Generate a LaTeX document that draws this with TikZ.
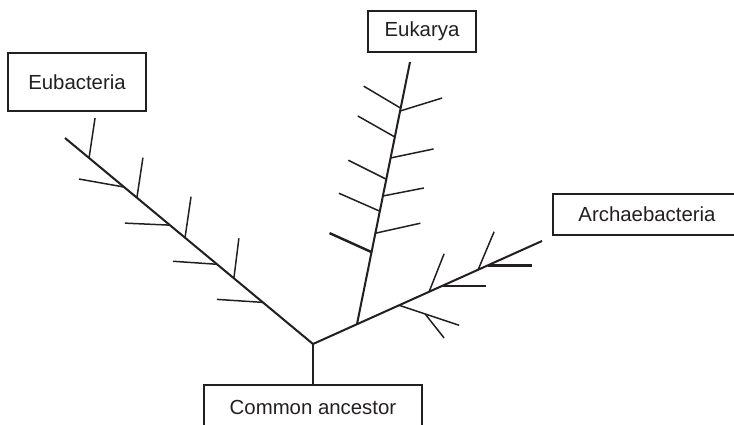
\documentclass[tikz,border=0pt]{standalone}
\usepackage{fontspec}
\setmainfont{Liberation Sans}
\usetikzlibrary{calc}
\definecolor{treeink}{HTML}{231F20}

\begin{document}
\begin{tikzpicture}[
    x=0.02cm, y=-0.02cm,
    stem/.style={line width=1.15pt, treeink},
    twig/.style={line width=0.85pt, treeink},
    fattwig/.style={line width=1.4pt, treeink},
    taxonbox/.style={draw=treeink, line width=0.85pt, inner sep=0pt,
        font=\fontsize{11.6}{14}\selectfont, text=treeink}
]

\useasboundingbox (0,0) rectangle (734,425);
\clip (0,0) rectangle (734,425);

% Boxes
\node[taxonbox, minimum width=2.76cm, minimum height=1.16cm] (eub) at (77,82) {Eubacteria};
\node[taxonbox, minimum width=2.16cm, minimum height=0.82cm] (euk) at (422,31.5) {Eukarya};
\node[taxonbox, minimum width=3.76cm, minimum height=0.82cm] (arc) at (647,214.5) {Archaebacteria};
\node[taxonbox, minimum width=4.36cm, minimum height=0.88cm] (anc) at (313,407) {Common ancestor};

% Main branches
\coordinate (root) at (313,344);
\coordinate (eubTip) at (65,138);
\coordinate (arcTip) at (542,241);
\coordinate (eukTip) at (410,62);
\coordinate (eukBase) at ($(root)!0.192!(arcTip)$);

\draw[stem] (anc.north) -- (root);
\draw[stem] (eubTip) -- (root) -- (arcTip);
\draw[stem] (eukBase) -- (eukTip);

% Eubacteria twigs
\draw[twig] ($(root)!0.903!(eubTip)$) -- ++(6,-40);
\draw[twig] ($(root)!0.710!(eubTip)$) -- ++(6,-40);
\draw[twig] ($(root)!0.516!(eubTip)$) -- ++(6,-41);
\draw[twig] ($(root)!0.319!(eubTip)$) -- ++(5,-40);
\draw[twig] ($(root)!0.762!(eubTip)$) -- ++(-45,-8);
\draw[twig] ($(root)!0.577!(eubTip)$) -- ++(-45,-2);
\draw[twig] ($(root)!0.387!(eubTip)$) -- ++(-44,-3);
\draw[twig] ($(root)!0.202!(eubTip)$) -- ++(-46,-3);

% Eukarya twigs
\draw[twig] ($(eukBase)!0.824!(eukTip)$) -- ++(-37,-22);
\draw[twig] ($(eukBase)!0.714!(eukTip)$) -- ++(-37,-21);
\draw[twig] ($(eukBase)!0.553!(eukTip)$) -- ++(-38,-19);
\draw[twig] ($(eukBase)!0.431!(eukTip)$) -- ++(-41,-18);
\draw[fattwig] ($(eukBase)!0.275!(eukTip)$) -- ++(-42,-19);
\draw[twig] ($(eukBase)!0.813!(eukTip)$) -- ++(42,-13);
\draw[twig] ($(eukBase)!0.634!(eukTip)$) -- ++(43,-9);
\draw[twig] ($(eukBase)!0.489!(eukTip)$) -- ++(41,-8);
\draw[twig] ($(eukBase)!0.347!(eukTip)$) -- ++(45,-10);

% Archaebacteria twigs
\draw[twig] ($(root)!0.507!(arcTip)$) -- ++(15,-38);
\draw[twig] ($(root)!0.721!(arcTip)$) -- ++(16,-38);
\draw[fattwig] ($(root)!0.563!(arcTip)$) -- ++(44,0);
\draw[fattwig] ($(root)!0.764!(arcTip)$) -- ++(44,0);
\coordinate (lowFork) at ($(root)!0.376!(arcTip)$);
\draw[twig] (lowFork) -- ++(60,20);
\draw[twig] ($(lowFork)+(26,8.7)$) -- ++(19,24);

\end{tikzpicture}
\end{document}
